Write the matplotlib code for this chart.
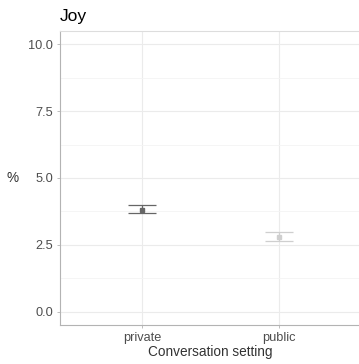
import matplotlib.pyplot as plt

plt.rcParams['font.family'] = ['Liberation Sans', 'DejaVu Sans']

# data
settings = ["private", "public"]
means = [3.82, 2.81]
lower = [3.69, 2.64]
upper = [3.99, 2.97]
colors = ["#666666", "#cfcfcf"]
yticks = [0.0, 2.5, 5.0, 7.5, 10.0]

fig = plt.figure(figsize=(3.59, 3.64), dpi=100)
ax = fig.add_axes([60 / 359, 39 / 364, 301 / 359, 294 / 364])

xs = [1, 2]
for x, m, lo, hi, c in zip(xs, means, lower, upper, colors):
    ax.errorbar([x], [m], yerr=[[m - lo], [hi - m]], fmt="s", color=c,
                markersize=2.5, capsize=10, elinewidth=0.9, capthick=0.9, zorder=3)

ax.set_xlim(0.4, 2.6)
ax.set_ylim(-0.5, 10.5)
ax.set_xticks(xs)
ax.set_xticklabels(settings)
ax.set_yticks(yticks)
ax.set_yticklabels(["%.1f" % v for v in yticks])
ax.set_yticks([1.25, 3.75, 6.25, 8.75], minor=True)

ax.grid(True, which="major", color="#ebebeb", linewidth=0.8)
ax.grid(True, which="minor", axis="y", color="#f4f4f4", linewidth=0.6)
ax.set_axisbelow(True)

for s in ["left", "bottom", "top"]:
    ax.spines[s].set_color("#b3b3b3")
    ax.spines[s].set_linewidth(0.8)
ax.spines["top"].set_color("#dddddd")
ax.spines["right"].set_visible(False)

ax.tick_params(axis="both", which="major", colors="#b3b3b3", labelcolor="#4d4d4d",
               labelsize=9.2, length=2.5, width=0.6, pad=2.5)
ax.tick_params(axis="y", which="minor", length=0)

ax.set_xlabel("Conversation setting", fontsize=9.8, color="#333333", labelpad=1)
ax.set_ylabel("%", fontsize=9.8, color="#333333", rotation=0, va="center", ha="center")
ax.yaxis.set_label_coords(-47 / 301, 0.5)
ax.set_title("Joy", fontsize=12.5, loc="left", x=0, pad=7)

fig.savefig("out.png", dpi=100)
